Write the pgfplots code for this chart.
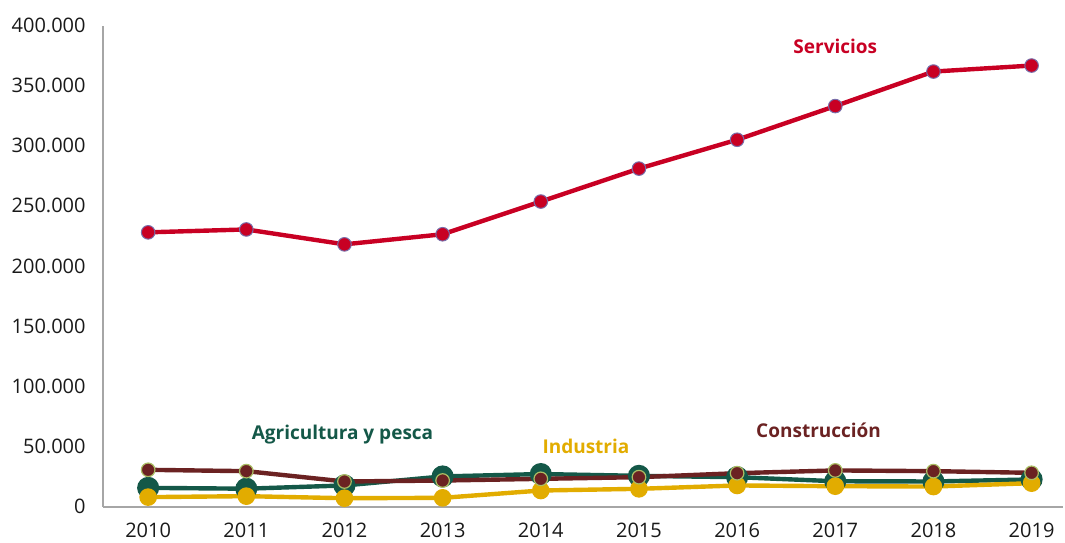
\documentclass[border=0pt]{standalone}
\usepackage{pgfplots}
\pgfplotsset{compat=1.18}
\usepackage{fontspec}
\setmainfont{Open Sans}
\definecolor{serv}{RGB}{200,0,35}
\definecolor{servedge}{RGB}{120,110,170}
\definecolor{agr}{RGB}{20,88,72}
\definecolor{con}{RGB}{107,34,34}
\definecolor{conedge}{RGB}{170,190,100}
\definecolor{ind}{RGB}{226,172,0}
\definecolor{axgray}{RGB}{166,166,166}
\begin{document}
\begin{tikzpicture}
\begin{axis}[
  scale only axis,
  width=480pt, height=240.5pt,
  xmin=2009.54, xmax=2019.32,
  ymin=0, ymax=400000,
  axis x line*=bottom, axis y line*=left,
  axis line style={axgray, line width=1pt, -},
  xtick={2010,2011,2012,2013,2014,2015,2016,2017,2018,2019},
  xticklabels={2010,2011,2012,2013,2014,2015,2016,2017,2018,2019},
  ytick={0,50000,100000,150000,200000,250000,300000,350000,400000},
  yticklabels={0,50.000,100.000,150.000,200.000,250.000,300.000,350.000,400.000},
  major tick length=0pt,
  ticklabel style={font=\fontsize{10}{12}\selectfont, text=black!90},
  xticklabel style={anchor=north, inner sep=0pt, yshift=-8pt},
  yticklabel style={anchor=east, inner sep=0pt, xshift=-8.5pt},
  scaled y ticks=false,
  clip=false,
]
\addplot[agr, line width=2.2pt, mark=*, mark size=4.4pt, mark options={fill=agr, draw=agr}]
 coordinates {(2010,15500)(2011,14800)(2012,17500)(2013,25000)(2014,27000)(2015,25500)(2016,24400)(2017,21000)(2018,20800)(2019,22500)};
\addplot[ind, line width=2.2pt, mark=*, mark size=3.3pt, mark options={fill=ind, draw=ind}]
 coordinates {(2010,7800)(2011,8600)(2012,6900)(2013,7200)(2014,13300)(2015,14700)(2016,17500)(2017,16900)(2018,16600)(2019,19400)};
\addplot[con, line width=2.2pt, mark=*, mark size=3.4pt, mark options={fill=con, draw=conedge, line width=0.6pt}]
 coordinates {(2010,30500)(2011,29400)(2012,20800)(2013,21600)(2014,23000)(2015,24400)(2016,27700)(2017,30000)(2018,29400)(2019,28000)};
\addplot[serv, line width=2.2pt, mark=*, mark size=3.4pt, mark options={fill=serv, draw=servedge, line width=0.5pt}]
 coordinates {(2010,228000)(2011,230400)(2012,218000)(2013,226400)(2014,253600)(2015,281000)(2016,305000)(2017,333000)(2018,361700)(2019,366700)};
\node[text=serv, font=\fontsize{9.5}{11}\selectfont\bfseries] at (axis cs:2017.0,382500) {Servicios};
\node[text=agr, font=\fontsize{9.5}{11}\selectfont\bfseries] at (axis cs:2011.98,60200) {Agricultura y pesca};
\node[text=ind, font=\fontsize{9.5}{11}\selectfont\bfseries] at (axis cs:2014.46,50300) {Industria};
\node[text=con, font=\fontsize{9.5}{11}\selectfont\bfseries] at (axis cs:2016.83,63500) {Construcción};
\end{axis}
\path (current axis.south west) ++(-51.5pt,-17.75pt) rectangle ++(532.5pt,271pt);
\end{tikzpicture}
\end{document}
